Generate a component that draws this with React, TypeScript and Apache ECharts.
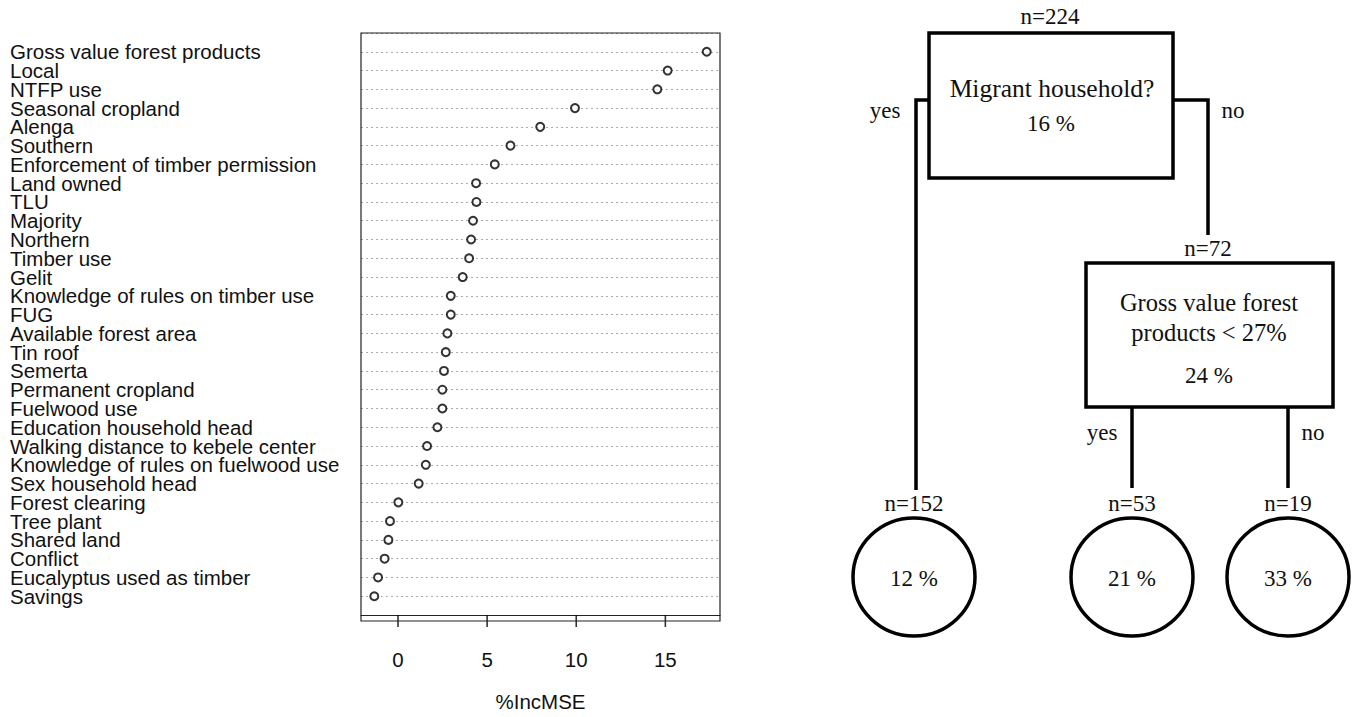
import React, { useEffect, useRef } from "react";
import * as echarts from "echarts";

// ---- Variable importance (dot chart) ----
const variables: string[] = [
  "Gross value forest products",
  "Local",
  "NTFP use",
  "Seasonal cropland",
  "Alenga",
  "Southern",
  "Enforcement of timber permission",
  "Land owned",
  "TLU",
  "Majority",
  "Northern",
  "Timber use",
  "Gelit",
  "Knowledge of rules on timber use",
  "FUG",
  "Available forest area",
  "Tin roof",
  "Semerta",
  "Permanent cropland",
  "Fuelwood use",
  "Education household head",
  "Walking distance to kebele center",
  "Knowledge of rules on fuelwood use",
  "Sex household head",
  "Forest clearing",
  "Tree plant",
  "Shared land",
  "Conflict",
  "Eucalyptus used as timber",
  "Savings",
];
const incMSE: number[] = [
  17.32, 15.13, 14.55, 9.93, 7.98, 6.31, 5.43, 4.38, 4.4, 4.21, 4.1, 3.99,
  3.63, 2.96, 2.96, 2.77, 2.68, 2.58, 2.49, 2.49, 2.21, 1.63, 1.56, 1.16,
  0.02, -0.45, -0.54, -0.75, -1.12, -1.33,
];
const xTicks: number[] = [0, 5, 10, 15];
const xAxisTitle = "%IncMSE";

// ---- Regression tree ----
const rootN = "n=224";
const rootQuestion = "Migrant household?";
const rootValue = "16 %";
const innerN = "n=72";
const innerQuestion: string[] = ["Gross value forest", "products < 27%"];
const innerValue = "24 %";
const leafN: string[] = ["n=152", "n=53", "n=19"];
const leafValue: string[] = ["12 %", "21 %", "33 %"];
const branchYes = "yes";
const branchNo = "no";

const W = 1353;
const H = 717;

export default function App() {
  const ref = useRef<HTMLDivElement>(null);
  useEffect(() => {
    document.body.style.margin = "0";
    if (!ref.current) return;
    const chart = echarts.init(ref.current, null, { renderer: "svg" });

    const grid = { left: 361, top: 33, width: 359, height: 588 };
    const n = variables.length;
    const lo = Math.min(...incMSE);
    const hi = Math.max(...incMSE);
    const pad = (hi - lo) * 0.04;

    const serif = "'Liberation Serif', 'Times New Roman', serif";
    const sans = "'Liberation Sans', Arial, sans-serif";
    const lw = 3.5;

    const txt = (x: number, y: number, t: string, size = 23) => ({
      type: "text",
      x,
      y,
      style: {
        text: t,
        fill: "#111",
        font: `${size}px ${serif}`,
        align: "center",
        verticalAlign: "middle",
      },
    });
    const line = (pts: number[][]) => ({
      type: "polyline",
      shape: { points: pts },
      style: { stroke: "#000", lineWidth: lw, fill: "none" },
    });
    const box = (x: number, y: number, w: number, h: number) => ({
      type: "rect",
      shape: { x, y, width: w, height: h },
      style: { stroke: "#000", lineWidth: lw, fill: "none" },
    });
    const leaf = (cx: number, cy: number) => ({
      type: "ellipse",
      shape: { cx, cy, rx: 61, ry: 59 },
      style: { stroke: "#000", lineWidth: lw, fill: "none" },
    });

    const leafX = [914, 1132, 1288];

    const graphics: any[] = [
      {
        type: "rect",
        z: 100,
        shape: { x: grid.left, y: grid.top, width: grid.width, height: grid.height },
        style: { stroke: "#222", lineWidth: 1.2, fill: "none" },
      },
      // root
      box(929, 33, 244, 145),
      txt(1050, 16, rootN),
      txt(1052, 88, rootQuestion, 25.5),
      txt(1051, 123, rootValue),
      line([[929, 100], [916, 100], [916, 490]]),
      line([[1173, 100], [1208, 100], [1208, 235]]),
      txt(885, 110, branchYes),
      txt(1233, 110, branchNo),
      // inner node
      txt(1208, 248, innerN),
      box(1086, 263, 247, 144),
      txt(1209, 302, innerQuestion[0], 24.5),
      txt(1209, 332, innerQuestion[1], 24.5),
      txt(1209, 375, innerValue),
      line([[1132, 407], [1132, 488]]),
      line([[1288, 407], [1288, 488]]),
      txt(1102, 432, branchYes),
      txt(1313, 432, branchNo),
    ];
    leafX.forEach((x, i) => {
      graphics.push(txt(x, 503, leafN[i]));
      graphics.push(leaf(x, 577));
      graphics.push(txt(x, 578, leafValue[i]));
    });

    chart.setOption({
      animation: false,
      backgroundColor: "#fff",
      grid: { ...grid, containLabel: false },
      xAxis: {
        type: "value",
        position: "bottom",
        min: lo - pad,
        max: hi + pad,
        axisLine: { show: true, onZero: false, lineStyle: { color: "#222", width: 1.2 } },
        splitLine: { show: false },
        axisTick: { show: false },
        axisLabel: {
          customValues: xTicks,
          fontSize: 20.5,
          fontFamily: sans,
          color: "#111",
          margin: 34,
        },
        name: xAxisTitle,
        nameLocation: "middle",
        nameGap: 76,
        nameTextStyle: { fontSize: 20.5, fontFamily: sans, color: "#111" },
      },
      yAxis: {
        type: "value",
        min: 0,
        max: n + 1,
        interval: 1,
        inverse: true,
        axisLine: { show: false, onZero: false },
        axisTick: { show: false },
        splitLine: {
          show: true,
          lineStyle: { color: "#aaaaaa", type: [2, 3], width: 1 },
        },
        axisLabel: {
          formatter: (v: number) => (v >= 1 && v <= n ? variables[v - 1] : ""),
          align: "left",
          margin: 351,
          fontSize: 20.5,
          lineHeight: 18,
          fontFamily: sans,
          color: "#111",
        },
      },
      series: [
        {
          type: "scatter",
          data: incMSE.map((v, i) => [v, i + 1]),
          symbol: "circle",
          symbolSize: 8,
          itemStyle: { color: "#fff", borderColor: "#000", borderWidth: 2 },
          z: 10,
        },
        {
          // R-style tick marks hanging below the plot box
          type: "scatter",
          clip: false,
          silent: true,
          data: xTicks.map((v) => [v, n + 1]),
          symbol: "rect",
          symbolSize: [1.6, 12],
          symbolOffset: [0, 6],
          itemStyle: { color: "#000" },
          z: 20,
        },
      ],
      graphic: graphics,
    });

    return () => chart.dispose();
  }, []);
  return <div ref={ref} style={{ width: W, height: H }} />;
}
